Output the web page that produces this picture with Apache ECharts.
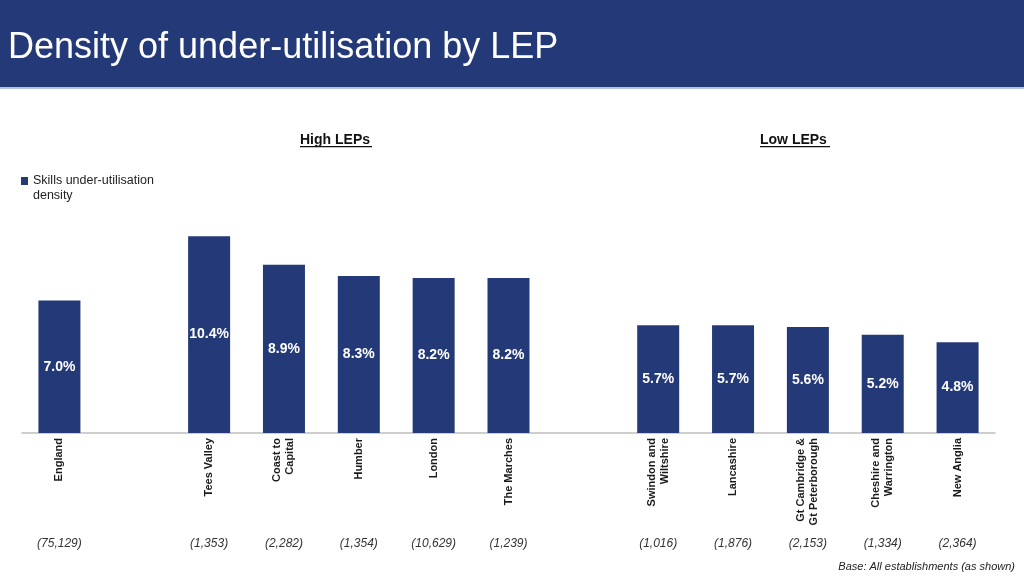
<!DOCTYPE html>
<html>
<head>
<meta charset="utf-8">
<script src="https://cdn.jsdelivr.net/npm/echarts@6/dist/echarts.min.js"></script>
<style>
html,body{margin:0;padding:0;background:#fff;}
#chart{width:1024px;height:576px;}
</style>
</head>
<body>
<div id="chart"></div>
<script>
// Data
var categories = ['England', '', 'Tees Valley', 'Coast to\nCapital', 'Humber', 'London', 'The Marches', '',
  'Swindon and\nWiltshire', 'Lancashire', 'Gt Cambridge &\nGt Peterborough', 'Cheshire and\nWarrington', 'New Anglia'];
var values = [7.0, null, 10.4, 8.9, 8.3, 8.2, 8.2, null, 5.7, 5.7, 5.6, 5.2, 4.8];
var baseCounts = ['(75,129)', '', '(1,353)', '(2,282)', '(1,354)', '(10,629)', '(1,239)', '',
  '(1,016)', '(1,876)', '(2,153)', '(1,334)', '(2,364)'];
var seriesName = 'Skills under-utilisation density';
var titleText = 'Density of under-utilisation by LEP';
var groupLabels = ['High LEPs', 'Low LEPs'];
var baseNote = 'Base: All establishments (as shown)';

var BAR = '#243a78';
var FONT = '"Liberation Sans", Arial, Helvetica, sans-serif';

var chart = echarts.init(document.getElementById('chart'), null, {renderer: 'canvas'});
chart.setOption({
  animation: false,
  backgroundColor: '#ffffff',
  textStyle: {fontFamily: FONT},
  graphic: [
    {type: 'rect', left: 0, top: 0, shape: {width: 1024, height: 87}, style: {fill: '#243a78'}, z: 0},
    {type: 'rect', left: 0, top: 87, shape: {width: 1024, height: 2}, style: {fill: '#b8c2d6'}, z: 0},
    {type: 'text', left: 8, top: 30, style: {text: titleText, fill: '#ffffff', font: '36px ' + FONT}, z: 1},
    {type: 'text', left: 300, top: 133, style: {text: groupLabels[0], fill: '#111111', font: 'bold 14px ' + FONT}},
    {type: 'rect', left: 300, top: 146, shape: {width: 72, height: 1.3}, style: {fill: '#111111'}},
    {type: 'text', left: 760, top: 133, style: {text: groupLabels[1], fill: '#111111', font: 'bold 14px ' + FONT}},
    {type: 'rect', left: 760, top: 146, shape: {width: 70, height: 1.3}, style: {fill: '#111111'}},
    {type: 'text', right: 9, top: 561, style: {text: baseNote, fill: '#222222', font: 'italic 11px ' + FONT}}
  ],
  legend: {
    left: 21,
    top: 173,
    padding: 0,
    orient: 'vertical',
    icon: 'path://M0,0h7v8h-7z M0,21.9h0.05v0.1h-0.05z',
    itemWidth: 7,
    itemHeight: 22,
    formatter: function () { return 'Skills under-utilisation\ndensity'; },
    textStyle: {fontSize: 12.5, color: '#222222', lineHeight: 15, fontFamily: FONT},
    data: [seriesName]
  },
  grid: {left: 22, right: 29, top: 206, bottom: 143, containLabel: false},
  xAxis: [
    {
      type: 'category',
      data: categories,
      axisLine: {show: true, lineStyle: {color: '#bfbfbf', width: 1.5}},
      axisTick: {show: false},
      axisLabel: {
        interval: 0, rotate: 90, margin: 5,
        fontSize: 11, fontWeight: 'bold', color: '#1a1a1a', lineHeight: 13, fontFamily: FONT
      }
    },
    {
      type: 'category',
      data: baseCounts,
      position: 'bottom',
      offset: 105,
      axisLine: {show: false},
      axisTick: {show: false},
      axisLabel: {interval: 0, margin: 0, fontSize: 12, fontStyle: 'italic', color: '#333333', fontFamily: FONT}
    }
  ],
  yAxis: {
    type: 'value', min: 0, max: 12, show: false,
    splitLine: {show: false}
  },
  series: [{
    name: seriesName,
    type: 'bar',
    data: values,
    barWidth: 42,
    itemStyle: {color: BAR},
    label: {
      show: true, position: 'inside',
      formatter: function (p) { return p.value.toFixed(1) + '%'; },
      color: '#ffffff', fontWeight: 'bold', fontSize: 14, fontFamily: FONT
    }
  }]
});
</script>
</body>
</html>
